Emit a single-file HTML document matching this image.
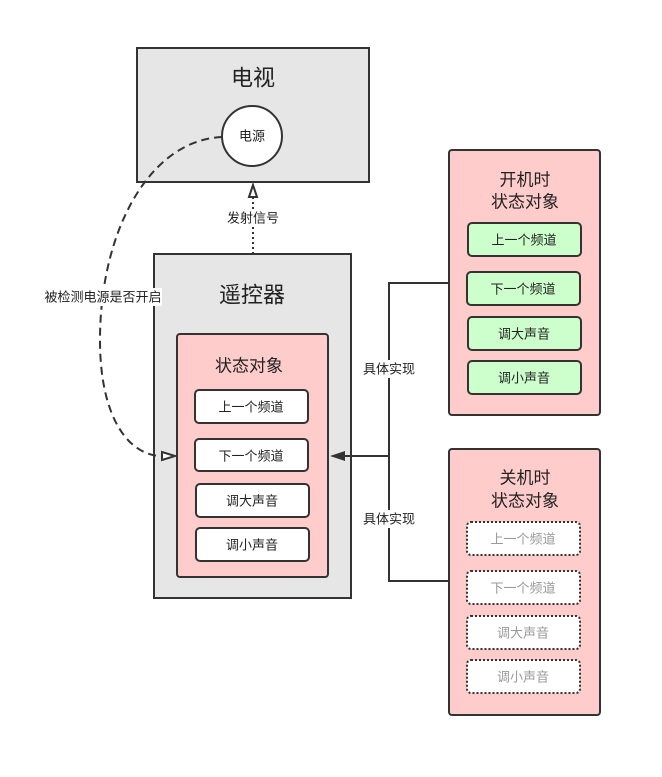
<!DOCTYPE html>
<html><head><meta charset="utf-8"><style>
body{margin:0;background:#fff}
svg{display:block}
text{font-family:"Liberation Sans","Noto Sans CJK SC",sans-serif;fill:#222;text-anchor:middle;dominant-baseline:central}
</style></head><body>
<svg width="662" height="777" viewBox="0 0 662 777" xmlns="http://www.w3.org/2000/svg">
<!-- TV -->
<rect x="137" y="48" width="232" height="134" fill="#e6e6e6" stroke="#333" stroke-width="2"/>
<text x="253" y="78" font-size="22">电视</text>
<circle cx="252" cy="136" r="30" fill="#fff" stroke="#333" stroke-width="2"/>
<text x="252" y="136" font-size="13">电源</text>
<!-- signal arrow -->
<line x1="253" y1="254" x2="253" y2="197" stroke="#333" stroke-width="2" stroke-dasharray="2,3"/>
<polygon points="253,185 249,197 257,197" fill="#fff" stroke="#333" stroke-width="2"/>
<rect x="225" y="209" width="56" height="18" fill="#fff"/>
<text x="253" y="218" font-size="13">发射信号</text>
<!-- remote -->
<rect x="154" y="254" width="197" height="344" fill="#e6e6e6" stroke="#333" stroke-width="2"/>
<text x="252" y="295" font-size="22">遥控器</text>
<rect x="177" y="334" width="151" height="243" rx="3" fill="#ffcccc" stroke="#333" stroke-width="2"/>
<text x="249" y="366" font-size="17">状态对象</text>
<g fill="#fff" stroke="#333" stroke-width="2">
<rect x="195" y="390" width="113" height="33" rx="4"/>
<rect x="195" y="439" width="113" height="32" rx="4"/>
<rect x="196" y="484" width="113" height="33" rx="4"/>
<rect x="196" y="528" width="113" height="33" rx="4"/>
</g>
<text x="251" y="407" font-size="13">上一个频道</text>
<text x="251" y="456" font-size="13">下一个频道</text>
<text x="252" y="501" font-size="13">调大声音</text>
<text x="252" y="545" font-size="13">调小声音</text>
<!-- dashed curve -->
<path d="M222,137 C150,140 100,230 100,340 C100,420 130,456 162,456" fill="none" stroke="#333" stroke-width="2" stroke-dasharray="8,5"/>
<polygon points="175,456 162,452 162,460" fill="#fff" stroke="#333" stroke-width="2"/>
<rect x="44" y="288" width="118" height="18" fill="#fff"/>
<text x="103" y="297" font-size="13">被检测电源是否开启</text>
<!-- connectors -->
<polyline points="449,283 389,283 389,581 449,581" fill="none" stroke="#333" stroke-width="2"/>
<line x1="389" y1="456" x2="342" y2="456" stroke="#333" stroke-width="2"/>
<polygon points="330,456 345,451 345,461" fill="#333"/>
<rect x="361" y="360" width="56" height="18" fill="#fff"/>
<text x="389" y="369" font-size="13">具体实现</text>
<rect x="361" y="510" width="56" height="18" fill="#fff"/>
<text x="389" y="519" font-size="13">具体实现</text>
<!-- on state -->
<rect x="449" y="150" width="151" height="265" rx="3" fill="#ffcccc" stroke="#333" stroke-width="2"/>
<text x="525" y="180" font-size="17">开机时</text>
<text x="525" y="202" font-size="17">状态对象</text>
<g fill="#ccffcc" stroke="#333" stroke-width="2">
<rect x="468" y="223" width="113" height="33" rx="4"/>
<rect x="467" y="272" width="113" height="33" rx="4"/>
<rect x="468" y="317" width="113" height="33" rx="4"/>
<rect x="468" y="361" width="113" height="33" rx="4"/>
</g>
<text x="524" y="240" font-size="13">上一个频道</text>
<text x="523" y="289" font-size="13">下一个频道</text>
<text x="524" y="334" font-size="13">调大声音</text>
<text x="524" y="378" font-size="13">调小声音</text>
<!-- off state -->
<rect x="449" y="449" width="151" height="266" rx="3" fill="#ffcccc" stroke="#333" stroke-width="2"/>
<text x="525" y="478" font-size="17">关机时</text>
<text x="525" y="501" font-size="17">状态对象</text>
<g fill="#fff" stroke="#333" stroke-width="2" stroke-dasharray="2,2">
<rect x="467" y="522" width="113" height="33" rx="4"/>
<rect x="467" y="571" width="113" height="33" rx="4"/>
<rect x="467" y="616" width="113" height="33" rx="4"/>
<rect x="467" y="660" width="113" height="33" rx="4"/>
</g>
<g style="fill:#999">
<text x="523" y="539" font-size="13" style="fill:#999">上一个频道</text>
<text x="523" y="588" font-size="13" style="fill:#999">下一个频道</text>
<text x="523" y="633" font-size="13" style="fill:#999">调大声音</text>
<text x="523" y="677" font-size="13" style="fill:#999">调小声音</text>
</g>
</svg>
</body></html>
